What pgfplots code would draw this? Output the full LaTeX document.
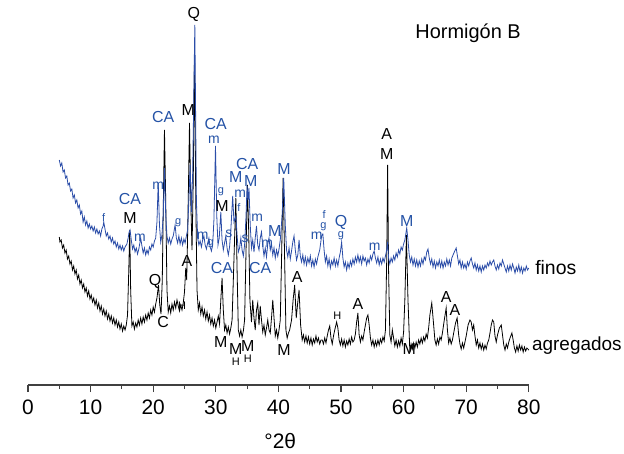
\documentclass[border=0pt]{standalone}
\usepackage{pgfplots}
\pgfplotsset{compat=1.18}
\usepackage{pgfplotstable}
\usepackage{fontspec}
\setmainfont{Liberation Sans}
\definecolor{finoblue}{HTML}{2B4DA8}
\definecolor{labblue}{HTML}{2452A6}
\definecolor{axgray}{HTML}{404040}

\pgfplotstableread{
x y
5.0 160
5.2 166
5.4 163
5.6 172
5.8 170
6.0 178
6.2 176
6.4 185
6.6 183
6.8 191
7.0 189
7.2 198
7.4 195
7.6 203
7.8 200
8.0 208
8.2 205
8.4 214
8.6 211
8.8 222
9.0 217
9.2 225
9.4 221
9.6 228
9.8 224
10.0 229
10.2 226
10.4 231
10.6 227
10.8 233
11.0 229
11.2 234
11.4 231
11.6 236
11.8 229
12.0 226
12.1 222
12.3 229
12.5 236
12.7 233
12.9 239
13.1 236
13.3 242
13.5 238
13.7 244
13.9 241
14.1 247
14.3 243
14.5 249
14.7 245
14.9 250
15.1 246
15.3 251
15.5 247
15.8 244
16.0 238
16.15 232
16.3 230
16.5 240
16.7 249
16.9 245
17.1 252
17.3 248
17.5 254
17.7 249
17.9 242
18.0 238
18.2 246
18.4 253
18.6 248
18.8 255
19.0 250
19.2 254
19.4 247
19.6 250
19.8 244
20.0 247
20.2 241
20.4 238
20.6 222
20.8 183
21.0 225
21.2 242
21.4 235
21.6 215
21.8 168
22.0 215
22.2 236
22.4 243
22.6 238
22.8 244
23.0 239
23.2 236
23.5 225
23.7 238
23.9 243
24.1 236
24.3 244
24.5 238
24.7 245
24.9 239
25.1 243
25.3 236
25.5 230
25.7 200
25.9 165
26.1 212
26.3 175
26.65 25
26.9 200
27.1 238
27.3 245
27.5 241
27.7 247
27.9 240
28.1 236
28.3 245
28.5 249
28.7 243
28.9 238
29.1 247
29.3 251
29.5 245
29.7 220
29.95 146
30.15 215
30.35 245
30.55 238
30.8 212
31.0 240
31.2 250
31.4 243
31.6 236
31.8 248
32.0 255
32.2 247
32.4 230
32.7 196
32.9 222
33.2 216
33.4 235
33.6 252
33.8 248
34.0 238
34.2 250
34.4 256
34.6 245
34.8 220
35.0 186
35.15 200
35.3 188
35.5 225
35.7 248
35.9 240
36.1 252
36.3 238
36.5 226
36.7 245
36.9 250
37.1 238
37.3 232
37.5 246
37.7 256
37.9 248
38.1 257
38.3 244
38.5 238
38.7 250
38.9 244
39.1 255
39.3 248
39.5 258
39.7 250
39.9 256
40.1 249
40.3 240
40.6 215
40.85 178
41.1 225
41.3 250
41.5 257
41.7 248
41.9 259
42.1 251
42.3 242
42.5 236
42.7 250
42.9 260
43.1 255
43.3 240
43.5 256
43.7 262
43.9 255
44.1 264
44.3 257
44.5 265
44.7 258
44.9 263
45.1 256
45.3 266
45.5 260
45.7 267
45.9 259
46.1 264
46.3 257
46.6 250
46.9 236
47.1 234
47.3 250
47.5 262
47.7 256
47.9 266
48.1 259
48.3 268
48.5 261
48.7 265
48.9 258
49.1 266
49.3 260
49.5 266
49.7 258
49.9 252
50.1 242
50.3 258
50.5 267
50.7 262
50.9 270
51.1 263
51.3 268
51.5 261
51.7 266
51.9 259
52.1 264
52.3 257
52.5 262
52.7 255
52.9 262
53.1 257
53.3 264
53.5 256
53.7 261
53.9 258
54.1 265
54.3 259
54.5 263
54.7 256
54.9 260
55.1 254
55.3 251
55.5 258
55.7 263
55.9 257
56.1 265
56.3 259
56.5 264
56.7 258
56.9 262
57.1 256
57.3 250
57.45 242
57.6 258
57.8 264
58.0 258
58.2 262
58.4 256
58.6 260
58.8 253
59.0 257
59.2 250
59.4 254
59.6 247
59.8 250
60.0 244
60.2 240
60.5 228
60.7 240
60.9 255
61.1 262
61.3 257
61.5 265
61.7 259
61.9 266
62.1 260
62.3 267
62.5 261
62.7 266
62.9 259
63.1 264
63.3 257
63.5 260
63.7 252
63.9 249
64.1 258
64.3 264
64.5 259
64.7 267
64.9 261
65.1 268
65.3 262
65.5 266
65.7 260
65.9 267
66.1 261
66.3 268
66.5 262
66.7 266
66.9 259
67.1 265
67.3 260
67.5 266
67.7 258
67.9 255
68.1 252
68.4 248
68.6 256
68.8 264
69.0 260
69.2 268
69.4 262
69.6 268
69.8 264
70.0 269
70.2 262
70.4 266
70.6 261
70.8 258
71.0 264
71.2 268
71.4 263
71.6 270
71.8 265
72.0 271
72.2 266
72.4 272
72.6 266
72.8 270
73.0 265
73.2 268
73.4 263
73.6 266
73.8 261
74.0 265
74.2 262
74.4 260
74.6 266
74.8 270
75.0 265
75.2 269
75.4 263
75.6 266
75.8 260
76.0 264
76.2 268
76.4 272
76.6 266
76.8 271
77.0 265
77.2 270
77.4 264
77.6 268
77.8 273
78.0 267
78.2 271
78.4 265
78.6 272
78.8 267
79.0 273
79.2 268
79.4 271
79.6 266
79.8 270
80.0 268
}\finos

\pgfplotstableread{
x y
5.0 237
5.1 242
5.3 240
5.5 248
5.7 245
5.9 253
6.1 250
6.3 259
6.5 256
6.7 264
6.9 261
7.1 270
7.3 266
7.5 274
7.7 270
7.9 279
8.1 275
8.3 284
8.5 280
8.7 288
8.9 284
9.1 292
9.3 288
9.5 296
9.7 291
9.9 299
10.1 295
10.3 302
10.5 298
10.7 305
10.9 300
11.1 308
11.3 303
11.5 311
11.7 306
11.9 314
12.1 309
12.3 316
12.5 311
12.7 319
12.9 314
13.1 321
13.3 316
13.5 323
13.7 318
13.9 325
14.1 320
14.3 327
14.5 322
14.7 329
14.9 324
15.1 331
15.3 326
15.5 330
15.7 325
15.9 315
16.1 270
16.25 230
16.4 290
16.6 326
16.8 322
17.0 329
17.2 323
17.4 327
17.6 320
17.8 325
18.0 318
18.2 324
18.4 317
18.6 322
18.8 315
19.0 320
19.2 313
19.4 318
19.6 310
19.8 315
20.0 307
20.2 312
20.4 304
20.6 298
20.85 285
21.05 305
21.25 314
21.45 280
21.65 190
21.8 130
22.0 200
22.2 290
22.4 312
22.6 306
22.8 313
23.0 304
23.2 310
23.4 302
23.6 308
23.8 300
24.0 306
24.2 311
24.4 305
24.6 310
24.8 303
25.0 292
25.2 268
25.35 280
25.5 235
25.65 180
25.8 123
26.0 200
26.2 250
26.4 180
26.6 53
26.8 200
27.0 290
27.2 310
27.4 303
27.6 314
27.8 307
28.0 316
28.2 310
28.4 319
28.6 312
28.8 321
29.0 315
29.2 324
29.4 318
29.6 326
29.8 320
30.0 328
30.2 322
30.4 316
30.6 324
30.8 300
31.0 278
31.2 310
31.4 330
31.6 325
31.8 333
32.0 327
32.2 334
32.4 328
32.6 320
32.8 280
33.2 198
33.4 270
33.6 330
33.8 336
34.0 330
34.2 337
34.4 331
34.6 320
34.8 260
35.05 185
35.25 230
35.45 300
35.7 322
35.9 300
36.1 318
36.3 330
36.5 310
36.7 303
36.9 325
37.1 306
37.3 320
37.5 332
37.7 325
37.9 335
38.1 328
38.3 320
38.5 330
38.7 333
38.9 318
39.1 300
39.3 318
39.5 336
39.7 330
39.9 338
40.1 330
40.3 320
40.5 260
40.75 178
41.0 260
41.2 330
41.4 338
41.6 333
41.8 330
42.1 320
42.35 300
42.6 285
42.85 318
43.05 305
43.3 290
43.55 325
43.8 340
44.0 335
44.2 342
44.4 336
44.6 343
44.8 337
45.0 344
45.2 338
45.4 345
45.6 339
45.8 343
46.0 336
46.2 342
46.4 338
46.6 344
46.8 340
47.0 340
47.2 344
47.4 338
47.6 343
47.8 336
48.0 330
48.2 326
48.4 338
48.6 344
48.8 336
49.0 330
49.3 322
49.5 328
49.7 340
49.9 345
50.1 339
50.3 346
50.5 340
50.7 347
50.9 341
51.1 345
51.3 339
51.5 344
51.7 337
51.9 342
52.1 340
52.3 334
52.5 322
52.7 313
52.9 335
53.1 342
53.3 336
53.5 340
53.7 332
53.9 325
54.1 318
54.3 315
54.5 325
54.7 338
54.9 345
55.1 340
55.3 347
55.5 341
55.7 346
55.9 340
56.1 345
56.3 339
56.5 343
56.7 337
56.9 341
57.1 330
57.3 260
57.45 165
57.6 270
57.8 335
58.0 342
58.2 330
58.4 338
58.6 346
58.8 340
59.0 347
59.2 341
59.4 346
59.6 338
59.8 344
60.0 332
60.2 300
60.45 235
60.7 300
61.0 352
61.2 344
61.4 349
61.6 343
61.8 348
62.0 342
62.2 347
62.4 340
62.6 344
62.8 338
63.0 343
63.2 337
63.4 341
63.6 334
63.8 338
64.0 328
64.2 315
64.5 303
64.8 325
65.0 340
65.2 345
65.4 339
65.6 344
65.8 337
66.0 340
66.2 333
66.5 320
66.8 308
67.0 330
67.2 343
67.4 338
67.6 344
67.8 340
68.0 333
68.3 323
68.55 318
68.8 335
69.0 344
69.2 349
69.4 343
69.6 348
69.8 342
70.0 336
70.3 325
70.6 320
70.8 322
71.0 330
71.2 325
71.4 336
71.6 345
71.8 340
72.0 348
72.2 343
72.4 349
72.6 344
72.8 350
73.0 345
73.2 349
73.4 343
73.6 340
73.8 333
74.0 325
74.2 320
74.4 322
74.6 336
74.8 342
75.0 335
75.3 328
75.6 325
75.8 335
76.0 345
76.2 350
76.4 344
76.6 348
76.8 342
77.0 338
77.3 333
77.5 340
77.7 348
77.9 352
78.1 346
78.3 351
78.5 345
78.7 350
78.9 346
79.1 352
79.3 347
79.5 351
79.7 348
80.0 350
}\agregados

\tikzset{
  bk/.style={text=black, font=\fontsize{16}{16}\selectfont, inner sep=0pt},
  bl/.style={text=labblue, font=\fontsize{16}{16}\selectfont, inner sep=0pt},
  blm/.style={text=labblue, font=\fontsize{14}{14}\selectfont, inner sep=0pt},
  sbl/.style={text=labblue, font=\fontsize{11}{11}\selectfont, inner sep=0pt},
  sbk/.style={text=black, font=\fontsize{11}{11}\selectfont, inner sep=0pt},
}

\begin{document}
\begin{tikzpicture}
\useasboundingbox (0,0) rectangle (624bp,454bp);
\begin{axis}[
  at={(28bp,69bp)}, anchor=south west,
  scale only axis, width=500.8bp, height=385bp,
  xmin=0, xmax=80, ymin=0, ymax=385,
  y dir=reverse,
  clip=false,
  axis x line=bottom, axis y line=none,
  axis line style={-, axgray, line width=1.3bp},
  xtick={0,10,...,80},
  minor xtick={5,15,...,75},
  tick align=outside,
  major tick length=7bp, minor tick length=4bp,
  tick style={axgray, line width=1.1bp},
  xticklabel style={font=\fontsize{21}{21}\selectfont, text=black, yshift=-4bp},
  /pgf/number format/assume math mode=true,
]
\addplot[black, line width=0.8bp] table[x=x,y=y] {\agregados};
\addplot[finoblue, line width=0.8bp] table[x=x,y=y] {\finos};

% black labels
\node[bk] at (axis cs:26.5,14) {Q};
\node[bk] at (axis cs:25.6,110) {M};
\node[bk] at (axis cs:16.3,218) {M};
\node[bk] at (axis cs:20.3,281) {Q};
\node[bk] at (axis cs:21.6,322) {C};
\node[sbk] at (axis cs:24.6,306) {H};
\node[bk] at (axis cs:25.4,261) {A};
\node[bk] at (axis cs:31.0,206) {M};
\node[bk] at (axis cs:30.8,342) {M};
\node[bk] at (axis cs:33.2,349) {M};
\node[sbk] at (axis cs:33.2,362) {H};
\node[bk] at (axis cs:35.1,346) {M};
\node[sbk] at (axis cs:35.1,359) {H};
\node[bk] at (axis cs:43.0,277) {A};
\node[sbk] at (axis cs:49.4,316) {H};
\node[bk] at (axis cs:40.9,350) {M};
\node[bk] at (axis cs:52.7,304) {A};
\node[bk] at (axis cs:57.3,134) {A};
\node[bk] at (axis cs:57.3,154) {M};
\node[bk] at (axis cs:66.8,297) {A};
\node[bk] at (axis cs:68.2,310) {A};
\node[bk] at (axis cs:60.9,349) {M};

% blue labels
\node[bl] at (axis cs:21.6,117) {CA};
\node[bl] at (axis cs:16.3,199) {CA};
\node[sbl] at (axis cs:12.1,218) {f};
\node[blm] at (axis cs:20.8,186) {m};
\node[blm] at (axis cs:17.9,238) {m};
\node[sbl] at (axis cs:24.0,223) {g};
\node[bl] at (axis cs:30.0,124) {CA};
\node[blm] at (axis cs:29.7,140) {m};
\node[sbl] at (axis cs:30.8,192) {g};
\node[blm] at (axis cs:27.9,236) {m};
\node[sbl] at (axis cs:29.2,244) {g};
\node[blm] at (axis cs:32.1,234) {s};
\node[bl] at (axis cs:33.2,177) {M};
\node[blm] at (axis cs:33.9,194) {m};
\node[sbl] at (axis cs:33.7,208) {f};
\node[bl] at (axis cs:35.0,164) {CA};
\node[bl] at (axis cs:35.6,181) {M};
\node[blm] at (axis cs:34.7,239) {s};
\node[blm] at (axis cs:36.6,218) {m};
\node[bl] at (axis cs:31.0,268) {CA};
\node[bl] at (axis cs:37.1,268) {CA};
\node[bl] at (axis cs:39.4,231) {M};
\node[blm] at (axis cs:38.2,244) {m};
\node[bl] at (axis cs:40.9,169) {M};
\node[blm] at (axis cs:46.1,236) {m};
\node[sbl] at (axis cs:47.2,227) {g};
\node[sbl] at (axis cs:47.3,215) {f};
\node[bl] at (axis cs:50.0,222) {Q};
\node[sbl] at (axis cs:50.0,236) {g};
\node[blm] at (axis cs:55.4,247) {m};
\node[bl] at (axis cs:60.5,221) {M};

% texts
\node[font=\fontsize{20}{20}\selectfont, inner sep=0pt] at (axis cs:70.3,33) {Hormigón B};
\node[font=\fontsize{19.5}{19.5}\selectfont, inner sep=0pt, anchor=west] at (axis cs:81.0,268) {finos};
\node[font=\fontsize{19}{19}\selectfont, inner sep=0pt, anchor=west] at (axis cs:80.5,346) {agregados};
\node[font=\fontsize{21}{21}\selectfont, inner sep=0pt] at (axis cs:40.3,441) {°2θ};
\end{axis}
\end{tikzpicture}
\end{document}
